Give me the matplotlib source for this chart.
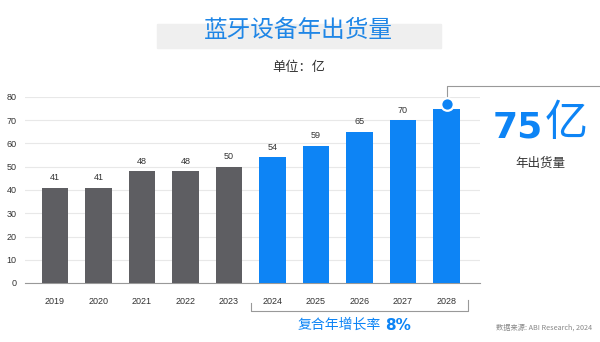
import matplotlib
matplotlib.use("Agg")
import matplotlib.pyplot as plt
import matplotlib.transforms as mtransforms
from matplotlib.patches import Rectangle

plt.rcParams['font.family'] = ['Noto Sans CJK SC', 'DejaVu Sans']

years = ['2019', '2020', '2021', '2022', '2023', '2024', '2025', '2026', '2027', '2028']
shipments = [41, 41, 48, 48, 50, 54, 59, 65, 70, 75]
n_actual = 5  # first five years are actuals, the rest forecast

GRAY = '#5e5e62'
BLUE = '#0d84f5'
DARK = '#333333'
NUM_FONT = 'Liberation Sans'

fig = plt.figure(figsize=(6, 3.42), dpi=100)
ax = fig.add_axes([25 / 600, 1 - 283 / 342, 455 / 600, 186 / 342])

x = list(range(len(years)))
colors = [GRAY] * n_actual + [BLUE] * (len(years) - n_actual)
bars = ax.bar(x, shipments, width=0.62, color=colors, zorder=3)

for xi, v in zip(x, shipments):
    if xi == len(years) - 1:
        continue
    ax.annotate(str(v), (xi, v), xytext=(0, 4), textcoords='offset points',
                ha='center', va='bottom', fontsize=6.5, color=DARK,
                family=NUM_FONT)

ax.set_xlim(-0.69, 9.77)
ax.set_ylim(0, 80)
ax.set_yticks(range(0, 81, 10))
ax.set_xticks(x)
ax.set_xticklabels(years)
ax.tick_params(axis='both', length=0, labelsize=6.5, colors=DARK)
ax.tick_params(axis='x', pad=10)
ax.tick_params(axis='y', pad=6)
for lbl in ax.get_xticklabels() + ax.get_yticklabels():
    lbl.set_family(NUM_FONT)
ax.grid(axis='y', color='#e8e8e8', linewidth=0.8, zorder=0)
for s in ['top', 'right', 'left']:
    ax.spines[s].set_visible(False)
ax.spines['bottom'].set_color('#999999')
ax.spines['bottom'].set_linewidth(0.8)

# callout on the last bar
last = len(years) - 1
ax.plot([last, last, 12.6], [78, 84.7, 84.7], color='#999999', lw=0.8,
        clip_on=False, zorder=2)
dot = mtransforms.offset_copy(ax.transData, fig=fig, x=0, y=5, units='dots')
ax.plot([last], [shipments[last]], 'o', markersize=9, color=BLUE,
        markeredgecolor='white', markeredgewidth=1.6, transform=dot,
        clip_on=False, zorder=5)
fig.text(543 / 600, 1 - 137 / 342, str(shipments[last]), color=BLUE,
         fontsize=26, fontweight='bold', ha='right', va='baseline',
         family='DejaVu Sans')
fig.text(566 / 600, 1 - 124 / 342, '亿', color=BLUE, fontsize=31,
         ha='center', va='center')
fig.text(540 / 600, 1 - 163 / 342, '年出货量', color=DARK, fontsize=9,
         ha='center', va='center')

# title band
fig.patches.append(Rectangle((157 / 600, 1 - 48 / 342), 284 / 600, 24 / 342,
                             transform=fig.transFigure, color='#efefef',
                             zorder=0))
fig.text(298 / 600, 1 - 30 / 342, '蓝牙设备年出货量', color='#1f86e6',
         fontsize=17, ha='center', va='center')
fig.text(299 / 600, 1 - 68 / 342, '单位：亿', color=DARK, fontsize=9.5,
         ha='center', va='center')

# CAGR bracket under the forecast years
bt = mtransforms.blended_transform_factory(ax.transData, fig.transFigure)
by_top = 1 - 300 / 342
by_bot = 1 - 311 / 342
ax.plot([4.5, 4.5, 9.5, 9.5], [1 - 303 / 342, by_bot, by_bot, by_top],
        color='#999999', lw=0.8, transform=bt, clip_on=False)
fig.text(381 / 600, 1 - 325 / 342, '复合年增长率', color=BLUE, fontsize=10,
         ha='right', va='center')
fig.text(385 / 600, 1 - 325 / 342, '8%', color=BLUE, fontsize=11,
         fontweight='bold', ha='left', va='center', family='DejaVu Sans')

fig.text(592 / 600, 1 - 328 / 342, '数据来源: ABI Research, 2024', color='#888888',
         fontsize=5.2, ha='right', va='center')

fig.savefig('out.png', dpi=100)
